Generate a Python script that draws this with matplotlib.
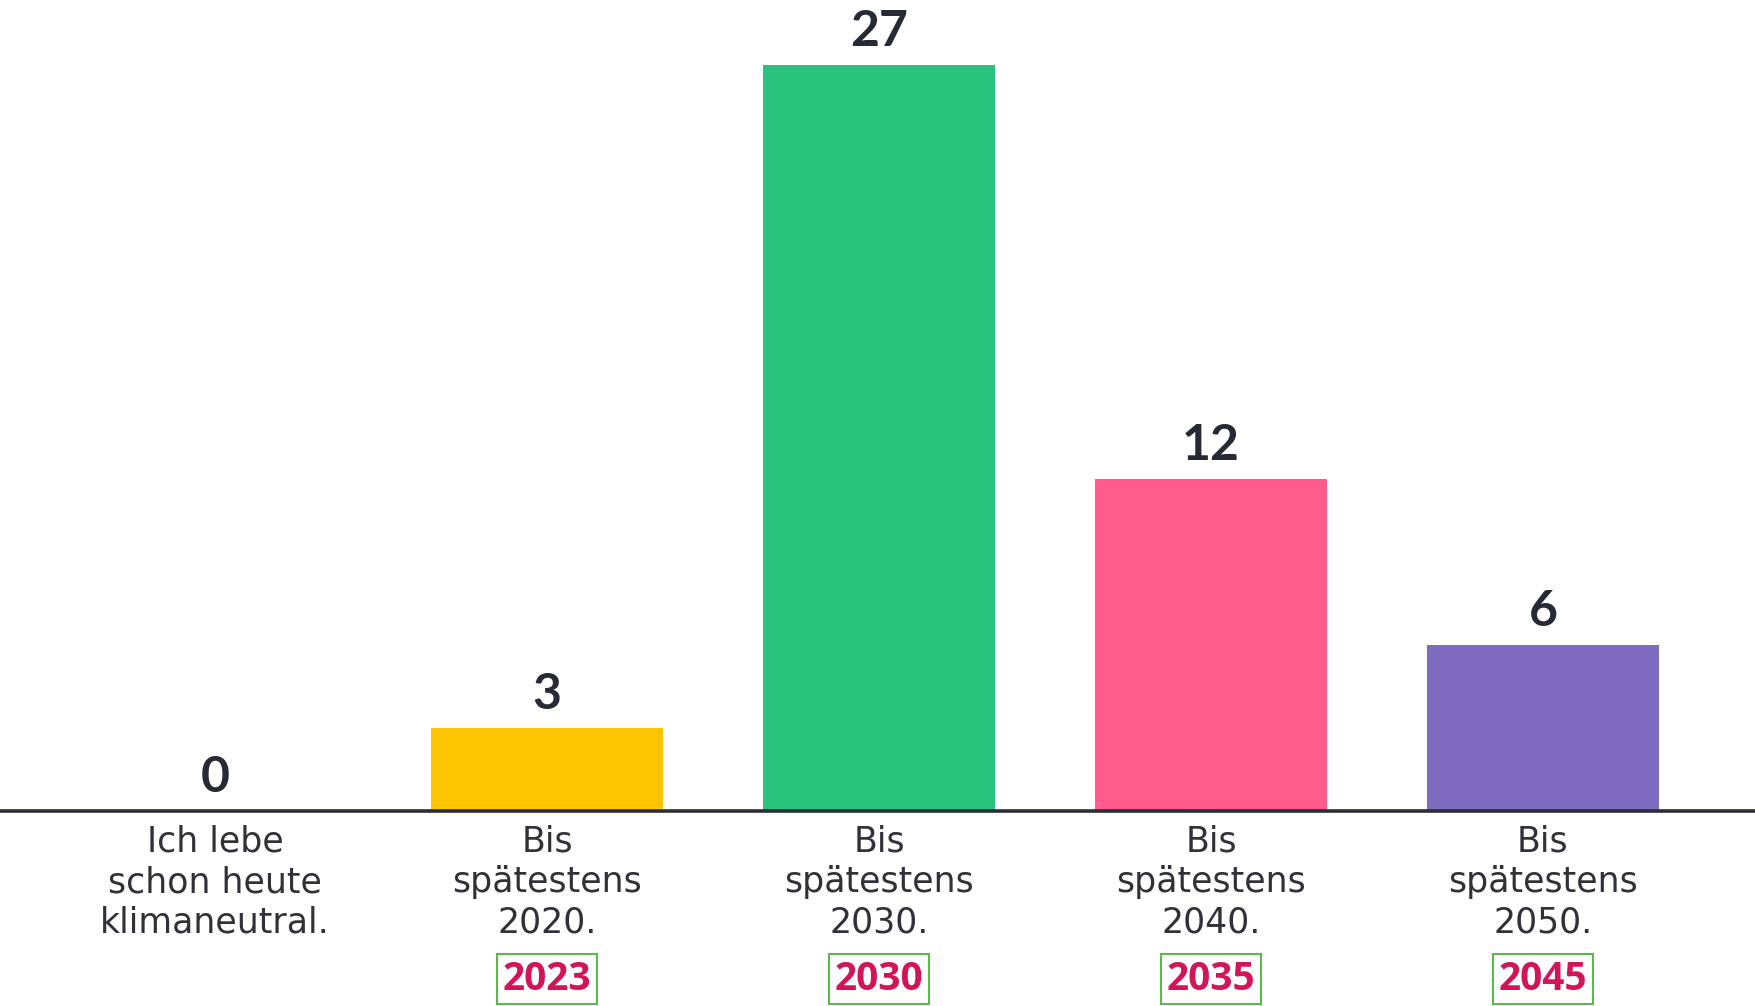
import matplotlib
matplotlib.use("Agg")
import matplotlib.pyplot as plt

categories = [
    "Ich lebe\nschon heute\nklimaneutral.",
    "Bis\nspätestens\n2020.",
    "Bis\nspätestens\n2030.",
    "Bis\nspätestens\n2040.",
    "Bis\nspätestens\n2050.",
]
values = [0, 3, 27, 12, 6]
years = ["", "2023", "2030", "2035", "2045"]
colors = ["#fdc500", "#fdc500", "#29c37d", "#ff5c8d", "#7e6bbf"]

fig = plt.figure(figsize=(17.56, 10.06), dpi=100)
ax = fig.add_axes([0, 0.1938, 1, 0.7416])

x = list(range(len(categories)))
ax.bar(x, values, width=0.70, color=colors, zorder=2)

ax.set_xlim(-0.648, 4.642)
ax.set_ylim(0, 27)

for s in ["top", "left", "right"]:
    ax.spines[s].set_visible(False)
ax.spines["bottom"].set_color("#2b2e38")
ax.spines["bottom"].set_linewidth(2.6)
ax.spines["bottom"].set_zorder(3)
ax.set_xticks([])
ax.set_yticks([])

# value labels above the bars
for xi, v in zip(x, values):
    ax.annotate(str(v), (xi, v), xytext=(0, 14), textcoords="offset points",
                ha="center", va="baseline", fontsize=36, fontweight="bold",
                family=["Lato", "DejaVu Sans"], color="#262a35",
                annotation_clip=False)

# category labels under the axis
for xi, lab in zip(x, categories):
    ax.annotate(lab, (xi, 0), xytext=(0, -10), textcoords="offset points",
                ha="center", va="top", fontsize=25, linespacing=1.24,
                family=["DejaVu Sans"], color="#303139",
                annotation_clip=False)

# boxed years
for xi, yr in zip(x, years):
    if not yr:
        continue
    ax.annotate(yr, (xi, 0), xytext=(0, -121), textcoords="offset points",
                ha="center", va="center", fontsize=28, fontweight="bold",
                family=["Open Sans", "DejaVu Sans"], color="#d2145a",
                annotation_clip=False,
                bbox=dict(boxstyle="square,pad=0.14", fc="white",
                          ec="#5cb84a", lw=1.5))

fig.savefig("out.png", dpi=100)
